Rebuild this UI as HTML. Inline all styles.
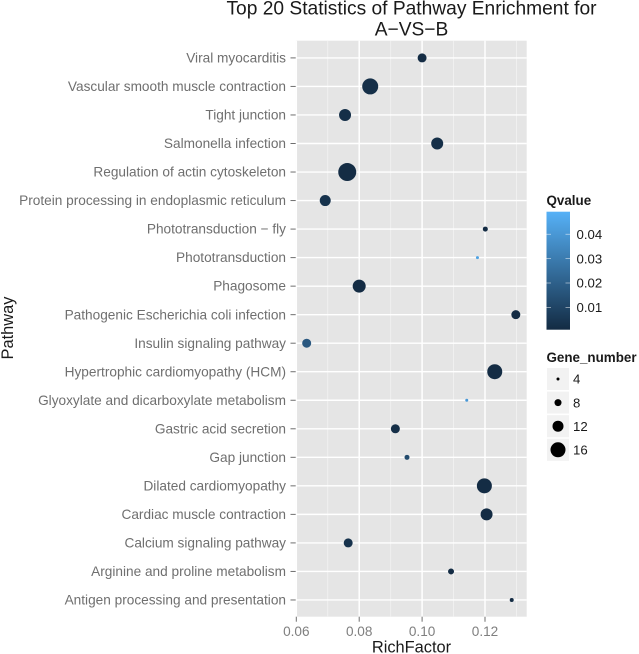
<!DOCTYPE html>
<html>
<head>
<meta charset="utf-8">
<style>
html,body{margin:0;padding:0;background:#fff;}
svg{display:block;font-family:"Liberation Sans",Arial,sans-serif;}
</style>
</head>
<body>
<svg id="chart" width="639" height="654" viewBox="0 0 639 654" xmlns="http://www.w3.org/2000/svg">
  <defs>
    <linearGradient id="qgrad" x1="0" y1="1" x2="0" y2="0">
      <stop offset="0" stop-color="#132B43"/>
      <stop offset="1" stop-color="#56B1F7"/>
    </linearGradient>
  </defs>
  <text x="411.5" y="14.5" text-anchor="middle" font-size="19.2" fill="#1a1a1a">Top 20 Statistics of Pathway Enrichment for</text>
  <text x="411.5" y="35.5" text-anchor="middle" font-size="19.2" fill="#1a1a1a">A−VS−B</text>
  <rect x="295.7" y="40.7" width="231" height="576" fill="#e5e5e5"/>
  <g id="grid"></g>
  <g id="yaxis"></g>
  <g id="xaxis"></g>
  <g id="points"></g>
  <text x="411.5" y="652.5" text-anchor="middle" font-size="16.4" fill="#1a1a1a">RichFactor</text>
  <text transform="translate(13,328) rotate(-90)" text-anchor="middle" font-size="16.4" fill="#1a1a1a">Pathway</text>
  <text x="546.5" y="205" font-size="13.4" font-weight="bold" fill="#1a1a1a">Qvalue</text>
  <rect x="546.5" y="211.7" width="23.5" height="118" fill="url(#qgrad)"/>
  <g id="qlegend"></g>
  <text x="546.5" y="362" font-size="13.4" font-weight="bold" fill="#1a1a1a">Gene_number</text>
  <g id="slegend"></g>
</svg>
<script>
const pathways = ["Viral myocarditis","Vascular smooth muscle contraction","Tight junction","Salmonella infection","Regulation of actin cytoskeleton","Protein processing in endoplasmic reticulum","Phototransduction − fly","Phototransduction","Phagosome","Pathogenic Escherichia coli infection","Insulin signaling pathway","Hypertrophic cardiomyopathy (HCM)","Glyoxylate and dicarboxylate metabolism","Gastric acid secretion","Gap junction","Dilated cardiomyopathy","Cardiac muscle contraction","Calcium signaling pathway","Arginine and proline metabolism","Antigen processing and presentation"];
const richFactor = [0.1000,0.0835,0.0755,0.1048,0.0762,0.0692,0.1201,0.1176,0.0800,0.1298,0.0633,0.1231,0.1142,0.0915,0.0952,0.1198,0.1205,0.0765,0.1092,0.1285];
const qvalue = [0.001,0.002,0.002,0.002,0.001,0.003,0.001,0.044,0.001,0.001,0.017,0.001,0.040,0.002,0.012,0.001,0.001,0.003,0.001,0.001];
const geneNumber = [10,17,13,13,19,12,6,4,14,10,10,16,4,10,6,16,13,10,7,5];
const xMajorTicks = [0.06,0.08,0.10,0.12];
const xMinorTicks = [0.07,0.09,0.11,0.13];
const xTickLabels = ["0.06","0.08","0.10","0.12"];
const qTicks = [0.04,0.03,0.02,0.01];
const qTickLabels = ["0.04","0.03","0.02","0.01"];
const sizeLegend = [4,8,12,16];

const NS = "http://www.w3.org/2000/svg";
const PANEL = {l:295.7, r:526.7, t:40.7, b:616.7};
function xScale(v){ return 296.3 + (v-0.06)*3145; }
function yScale(i){ return 57.9 + i*28.53; }
function dia(n){ return n-1; }
function qY(q){ return 307.4 - (q-0.01)*2440; }
function qColor(q){
  const t = Math.min(1,Math.max(0,(q-0.0006)/0.0484));
  const a=[19,43,67], b=[86,177,247];
  return "rgb("+a.map((c,i)=>Math.round(c+(b[i]-c)*t)).join(",")+")";
}
function el(tag,attrs,parent){
  const e=document.createElementNS(NS,tag);
  for(const k in attrs) e.setAttribute(k,attrs[k]);
  parent.appendChild(e);
  return e;
}
const grid=document.getElementById("grid");
const yaxis=document.getElementById("yaxis");
const xaxis=document.getElementById("xaxis");
const points=document.getElementById("points");
const qlegend=document.getElementById("qlegend");
const slegend=document.getElementById("slegend");

xMinorTicks.forEach(v=>{
  const l=el("line",{x1:xScale(v),x2:xScale(v),y1:PANEL.t,y2:PANEL.b,stroke:"#f2f2f2","stroke-width":0.8},grid);
  
  
});
xMajorTicks.forEach((v,i)=>{
  const l=el("line",{x1:Math.max(xScale(v),PANEL.l),x2:Math.max(xScale(v),PANEL.l),y1:PANEL.t,y2:PANEL.b,stroke:"#fff","stroke-width":1.5},grid);
  
  
  const t=el("line",{x1:xScale(v),x2:xScale(v),y1:PANEL.b,y2:PANEL.b+5,stroke:"#6e6e6e","stroke-width":1},xaxis);
  
  
  const s=el("text",{x:xScale(v),y:636,"text-anchor":"middle","font-size":13.6,fill:"#7f7f7f"},xaxis);
  
  
  s.textContent=xTickLabels[i];
});
pathways.forEach((p,i)=>{
  const y=yScale(i);
  const l=el("line",{x1:PANEL.l,x2:PANEL.r,y1:y,y2:y,stroke:"#fff","stroke-width":1.4},grid);
  
  
  const t=el("line",{x1:290.5,x2:295.7,y1:y,y2:y,stroke:"#6e6e6e","stroke-width":1},yaxis);
  
  
  const s=el("text",{x:286,y:y+4.6,"text-anchor":"end","font-size":13.65,fill:"#6f6f6f"},yaxis);
  
  
  s.textContent=p;
  const c=el("circle",{cx:xScale(richFactor[i]),cy:y,r:dia(geneNumber[i])/2,fill:qColor(qvalue[i])},points);
  
  
});
qTicks.forEach((q,i)=>{
  const y=qY(q);
  const a=el("line",{x1:546.5,x2:551,y1:y,y2:y,stroke:"#fff","stroke-width":0.6,"stroke-opacity":0.8},qlegend);
  
  
  const b=el("line",{x1:565.5,x2:570,y1:y,y2:y,stroke:"#fff","stroke-width":0.6,"stroke-opacity":0.8},qlegend);
  
  
  const s=el("text",{x:576.5,y:y+4.7,"font-size":13.2,fill:"#1a1a1a"},qlegend);
  
  
  s.textContent=qTickLabels[i];
});
sizeLegend.forEach((n,i)=>{
  const top=368+i*23.6, cy=top+11;
  const r=el("rect",{x:547,y:top,width:22,height:22,fill:"#f2f2f2"},slegend);
  
  
  const c=el("circle",{cx:558,cy:cy,r:dia(n)/2,fill:"#000"},slegend);
  
  
  const s=el("text",{x:573,y:cy+4.7,"font-size":13.2,fill:"#1a1a1a"},slegend);
  
  
  s.textContent=n;
});
</script>
</body>
</html>
